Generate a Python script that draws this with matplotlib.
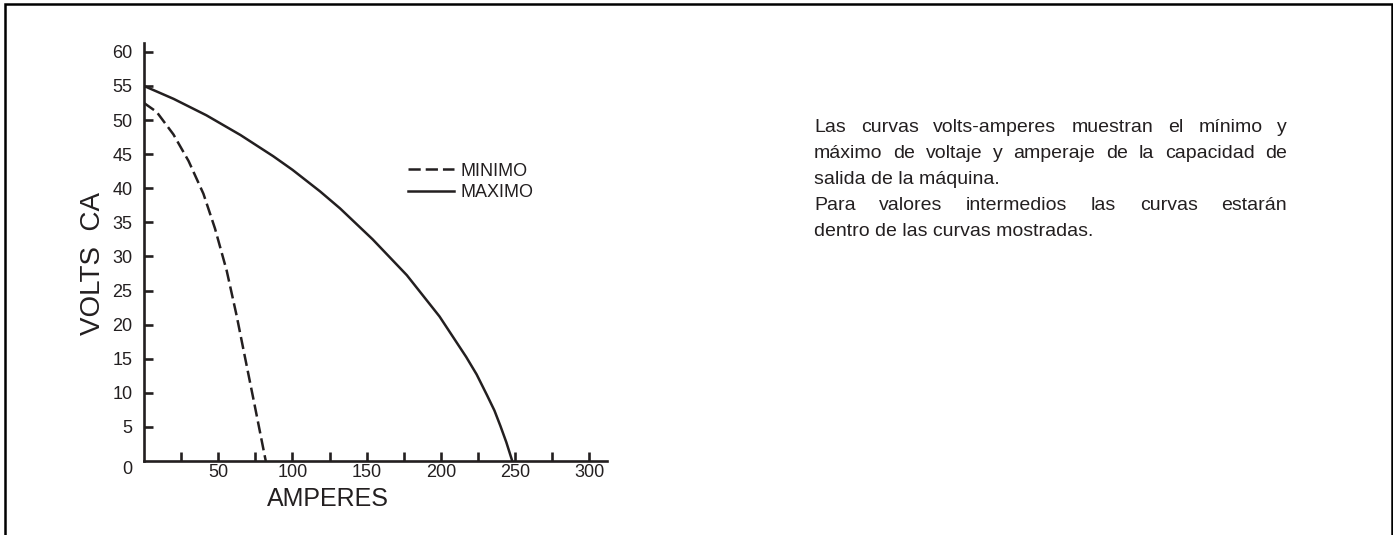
import matplotlib
matplotlib.use("Agg")
import matplotlib.pyplot as plt
from matplotlib.patches import Rectangle
from matplotlib.transforms import offset_copy

# ---------------- data ----------------
max_amps = [0, 20, 42, 65, 87, 100, 118.5, 132, 154, 177, 199, 217, 224, 231, 236, 240, 244, 248]
max_volts = [55, 53.1, 50.7, 47.8, 44.7, 42.7, 39.55, 37.05, 32.5, 27.25, 21.2, 15.25,
             12.7, 9.65, 7.4, 5.15, 2.75, 0]
min_amps = [0, 8.5, 19.8, 30, 40, 47.8, 55.7, 62.4, 67, 74.5, 82]
min_volts = [52.5, 51.2, 47.9, 44.0, 39.2, 34.1, 27.9, 21.3, 16.3, 8.2, 0]

x_major = [50, 100, 150, 200, 250, 300]
x_minor = [25, 75, 125, 175, 225, 275]
y_ticks = [5, 10, 15, 20, 25, 30, 35, 40, 45, 50, 55, 60]
series_labels = ["MINIMO", "MAXIMO"]
x_title = "AMPERES"
y_title = "VOLTS  CA"
paragraph = [
    ("Las curvas volts-amperes muestran el mínimo y", True),
    ("máximo de voltaje y amperaje de la capacidad de", True),
    ("salida de la máquina.", False),
    ("Para valores intermedios las curvas estarán", True),
    ("dentro de las curvas mostradas.", False),
]

# ---------------- style ----------------
W, H, DPI = 1393, 535, 100
INK = "#231f20"
plt.rcParams["font.family"] = ["Liberation Sans", "DejaVu Sans"]
plt.rcParams["lines.scale_dashes"] = False

fig = plt.figure(figsize=(W / DPI, H / DPI), dpi=DPI)
fig.patch.set_facecolor("white")

x0, x1, y0, y1 = 144, 606.7, 461, 43
ax = fig.add_axes([x0 / W, 1 - y0 / H, (x1 - x0) / W, (y0 - y1) / H])
ax.set_xlim(0, 311.6)
ax.set_ylim(0, 61.3)

lw = 1.8
ax.plot(min_amps, min_volts, color=INK, lw=lw, dashes=(8.8, 3.6),
        label=series_labels[0], solid_joinstyle="round")
ax.plot(max_amps, max_volts, color=INK, lw=lw, label=series_labels[1],
        solid_joinstyle="round")

for s in ["top", "right"]:
    ax.spines[s].set_visible(False)
for s in ["left", "bottom"]:
    ax.spines[s].set_linewidth(1.9)
    ax.spines[s].set_color(INK)

ax.set_xticks(x_major)
ax.set_xticks(x_minor, minor=True)
ax.set_yticks(y_ticks)
ax.tick_params(axis="x", which="both", direction="in", length=6.5, width=1.9,
               color=INK, pad=2.5, labelsize=13, labelcolor=INK)
ax.tick_params(axis="y", which="both", direction="in", length=6.3, width=1.9,
               color=INK, pad=8.3, labelsize=13, labelcolor=INK)

ax.text(0, 0, "0", ha="right", va="center", fontsize=13, color=INK,
        transform=offset_copy(ax.transData, fig, x=-11.5, y=-9, units="dots"))

leg = ax.legend(loc="center left",
                bbox_to_anchor=(408 / W, 1 - 182 / H),
                bbox_transform=fig.transFigure,
                frameon=False, fontsize=13, handlelength=2.55,
                handletextpad=0.37, labelspacing=0.27, borderpad=0,
                borderaxespad=0)
for t in leg.get_texts():
    t.set_color(INK)

fig.text(327.5 / W, 1 - 499 / H, x_title, ha="center", va="center",
         fontsize=18, color=INK)
fig.text(92.5 / W, 1 - 264 / H, y_title, ha="center", va="center",
         rotation=90, fontsize=20, color=INK)

# outer frame (left, top, right; bottom is cut off)
fig.add_artist(Rectangle((5.3 / W, -0.05), (1391.7 - 5.3) / W,
                         1 - 3.8 / H + 0.05, transform=fig.transFigure,
                         fill=False, lw=1.8, edgecolor="black", clip_on=False))

# justified paragraph
fig.canvas.draw()
r = fig.canvas.get_renderer()
px0, px1 = 814, 1287
base0, step = 131.5, 26
fs = 14
for i, (line, just) in enumerate(paragraph):
    yb = 1 - (base0 + i * step) / H
    if not just:
        fig.text(px0 / W, yb, line, ha="left", va="baseline", fontsize=fs, color=INK)
        continue
    words = line.split()
    texts = [fig.text(0, yb, w, ha="left", va="baseline", fontsize=fs, color=INK)
             for w in words]
    widths = [t.get_window_extent(r).width for t in texts]
    gap = (px1 - px0 - sum(widths)) / (len(words) - 1)
    x = px0
    for t, w in zip(texts, widths):
        t.set_x(x / W)
        x += w + gap

fig.savefig("out.png", dpi=DPI, facecolor="white")
